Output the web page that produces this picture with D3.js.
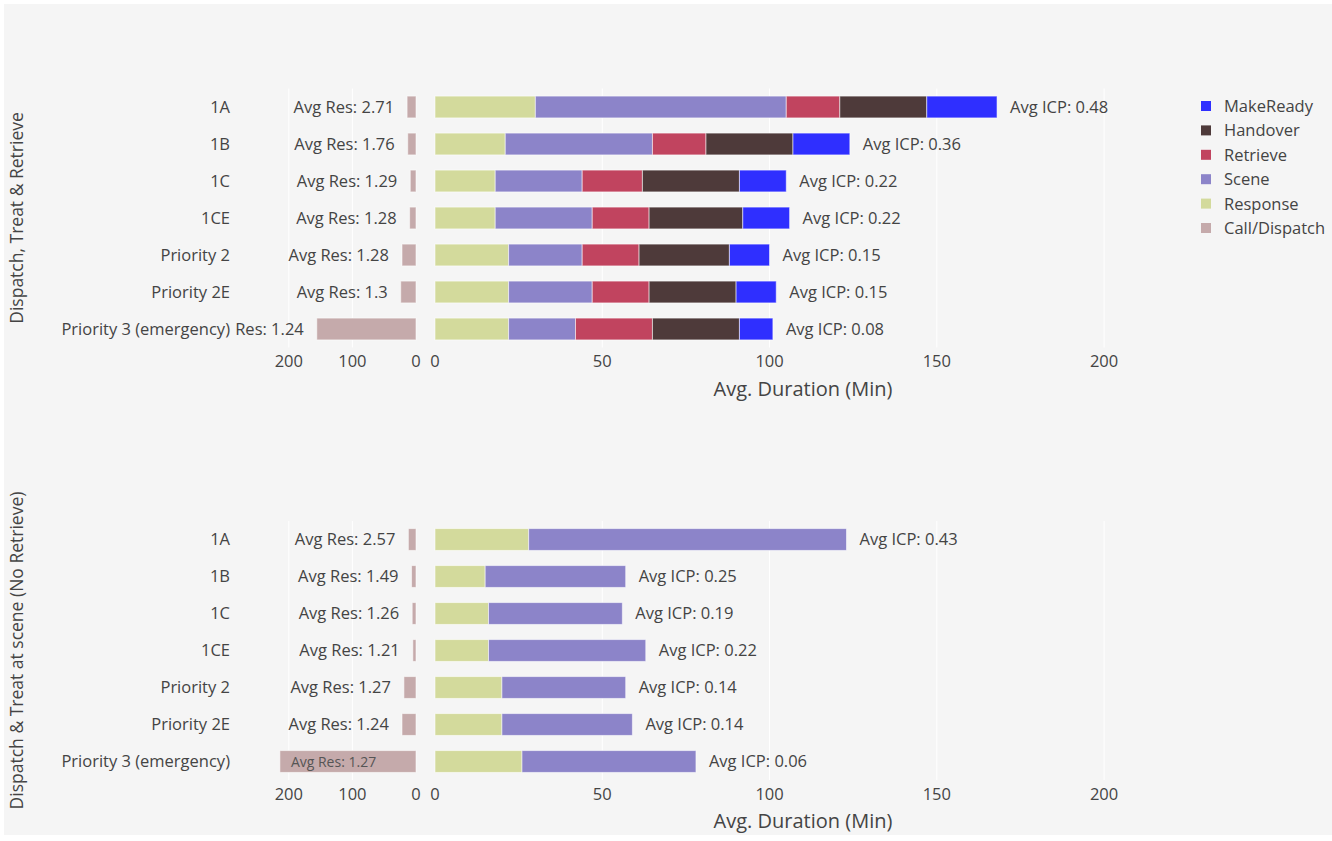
<!DOCTYPE html>
<html>
<head>
<meta charset="utf-8">
<script src="https://cdn.jsdelivr.net/npm/d3@7"></script>
<style>
  body { margin: 0; background: #fff; }
  svg { display: block; font-family: 'Open Sans', sans-serif; }
</style>
</head>
<body>
<div id="chart"></div>
<script>
// Chart data
const categories = ['1A', '1B', '1C', '1CE', 'Priority 2', 'Priority 2E', 'Priority 3 (emergency)'];
const segmentNames = ['Response', 'Scene', 'Retrieve', 'Handover', 'MakeReady'];
const legendNames = ['MakeReady', 'Handover', 'Retrieve', 'Scene', 'Response', 'Call/Dispatch'];

// Dispatch, Treat & Retrieve
const callTop = [14, 13, 9, 10, 22, 24, 156];
const responseTop = [30, 21, 18, 18, 22, 22, 22];
const sceneTop = [75, 44, 26, 29, 22, 25, 20];
const retrieveTop = [16, 16, 18, 17, 17, 17, 23];
const handoverTop = [26, 26, 29, 28, 27, 26, 26];
const makeReadyTop = [21, 17, 14, 14, 12, 12, 10];
const resTop = ['2.71', '1.76', '1.29', '1.28', '1.28', '1.3', '1.24'];
const icpTop = ['0.48', '0.36', '0.22', '0.22', '0.15', '0.15', '0.08'];

// Dispatch & Treat at scene (No Retrieve)
const callBottom = [12, 7, 6, 5, 19, 22, 214];
const responseBottom = [28, 15, 16, 16, 20, 20, 26];
const sceneBottom = [95, 42, 40, 47, 37, 39, 52];
const resBottom = ['2.57', '1.49', '1.26', '1.21', '1.27', '1.24', '1.27'];
const icpBottom = ['0.43', '0.25', '0.19', '0.22', '0.14', '0.14', '0.06'];

const mainTicks = [0, 50, 100, 150, 200];
const leftTicks = [0, 100, 200];

const colors = {
  'MakeReady': '#2f2fff',
  'Handover': '#4e3a3a',
  'Retrieve': '#c1445f',
  'Scene': '#8c84c9',
  'Response': '#d3da9c',
  'Call/Dispatch': '#c5aaab',
};

const width = 1332;
const height = 841;
const textColor = '#444';
const fontSize = 16.5;

const svg = d3.select('#chart').append('svg')
  .attr('width', width)
  .attr('height', height);

svg.append('rect')
  .attr('x', 4)
  .attr('y', 4)
  .attr('width', width - 4)
  .attr('height', 831)
  .attr('fill', '#f5f5f5');

// Shared horizontal scales
const x = d3.scaleLinear().domain([0, 220]).range([435, 1171]);
const xLeft = d3.scaleLinear().domain([0, 283]).range([416, 236]);
const leftEdge = 235;

function drawPanel(config) {
  const y = d3.scaleBand()
    .domain(categories)
    .range([config.top, config.top + 259])
    .paddingInner(0.41)
    .paddingOuter(0.205);

  const g = svg.append('g');

  // Grid lines
  g.append('g')
    .selectAll('line')
    .data(mainTicks.slice(1))
    .enter()
    .append('line')
    .attr('x1', d => x(d))
    .attr('x2', d => x(d))
    .attr('y1', config.top)
    .attr('y2', config.top + 259)
    .attr('stroke', '#fff')
    .attr('stroke-width', 1);

  g.append('g')
    .selectAll('line')
    .data(leftTicks.slice(1))
    .enter()
    .append('line')
    .attr('x1', d => xLeft(d))
    .attr('x2', d => xLeft(d))
    .attr('y1', config.top)
    .attr('y2', config.top + 259)
    .attr('stroke', '#fff')
    .attr('stroke-width', 1);

  // Stacked main bars
  const rows = categories.map((c, i) => {
    const row = { category: c };
    config.segments.forEach(s => { row[s.name] = s.values[i]; });
    return row;
  });
  const stack = d3.stack().keys(config.segments.map(s => s.name));
  const series = stack(rows);

  g.append('g')
    .selectAll('g')
    .data(series)
    .enter()
    .append('g')
    .attr('fill', d => colors[d.key])
    .selectAll('rect')
    .data(d => d)
    .enter()
    .append('rect')
    .attr('x', d => x(d[0]))
    .attr('y', d => y(d.data.category))
    .attr('width', d => x(d[1]) - x(d[0]))
    .attr('height', y.bandwidth())
    .attr('stroke', 'rgba(255,255,255,0.55)')
    .attr('stroke-width', 1);

  // Avg ICP labels outside the stacked bars
  const totals = series[series.length - 1];
  g.append('g')
    .selectAll('text')
    .data(totals)
    .enter()
    .append('text')
    .attr('x', d => x(d[1]) + 13)
    .attr('y', d => y(d.data.category) + y.bandwidth() / 2)
    .attr('dy', '0.36em')
    .attr('fill', textColor)
    .style('font-size', `${fontSize}px`)
    .text((d, i) => `Avg ICP: ${config.icp[i]}`);

  // Call/Dispatch bars on the reversed left axis
  const left = g.append('g');
  left.selectAll('rect')
    .data(config.call)
    .enter()
    .append('rect')
    .attr('x', d => xLeft(d))
    .attr('y', (d, i) => y(categories[i]))
    .attr('width', d => xLeft(0) - xLeft(d))
    .attr('height', y.bandwidth())
    .attr('fill', colors['Call/Dispatch'])
    .attr('stroke', 'rgba(255,255,255,0.55)')
    .attr('stroke-width', 1);

  const leftText = left.append('g');
  config.call.forEach((v, i) => {
    const label = `Avg Res: ${config.res[i]}`;
    const barW = xLeft(0) - xLeft(v);
    const t = leftText.append('text')
      .attr('y', y(categories[i]) + y.bandwidth() / 2)
      .attr('dy', '0.36em')
      .style('font-size', '14px')
      .text(label);
    if (t.node().getComputedTextLength() + 20 < barW) {
      // fits inside the bar
      t.attr('x', xLeft(v) + 11)
        .attr('fill', '#555');
    } else {
      const end = xLeft(v) - 13;
      t.style('font-size', `${fontSize}px`)
        .attr('x', end)
        .attr('text-anchor', 'end')
        .attr('fill', textColor);
      // words running past the subplot's left edge are cut off
      let words = label.split(' ');
      while (words.length > 1 && end - t.node().getComputedTextLength() < leftEdge) {
        words = words.slice(1);
        t.text(words.join(' '));
      }
    }
  });

  // Category labels
  g.append('g')
    .selectAll('text')
    .data(categories)
    .enter()
    .append('text')
    .attr('x', 230)
    .attr('y', d => y(d) + y.bandwidth() / 2)
    .attr('dy', '0.36em')
    .attr('text-anchor', 'end')
    .attr('fill', textColor)
    .style('font-size', `${fontSize}px`)
    .text(d => d);

  // Tick labels
  const tickY = config.top + 273;
  g.append('g')
    .selectAll('text')
    .data(mainTicks)
    .enter()
    .append('text')
    .attr('x', d => x(d))
    .attr('y', tickY)
    .attr('dy', '0.36em')
    .attr('text-anchor', 'middle')
    .attr('fill', textColor)
    .style('font-size', `${fontSize}px`)
    .text(d => d);

  g.append('g')
    .selectAll('text')
    .data(leftTicks)
    .enter()
    .append('text')
    .attr('x', d => xLeft(d))
    .attr('y', tickY)
    .attr('dy', '0.36em')
    .attr('text-anchor', 'middle')
    .attr('fill', textColor)
    .style('font-size', `${fontSize}px`)
    .text(d => d);

  // Axis titles
  g.append('text')
    .attr('x', (x.range()[0] + x.range()[1]) / 2)
    .attr('y', config.top + 300)
    .attr('dy', '0.36em')
    .attr('text-anchor', 'middle')
    .attr('fill', textColor)
    .style('font-size', '20px')
    .text('Avg. Duration (Min)');

  const cy = config.top + 129.5;
  g.append('text')
    .attr('transform', `translate(17, ${cy}) rotate(-90)`)
    .attr('dy', '0.36em')
    .attr('text-anchor', 'middle')
    .attr('fill', textColor)
    .style('font-size', '17.5px')
    .text(config.title);
}

drawPanel({
  top: 88.5,
  title: 'Dispatch, Treat & Retrieve',
  call: callTop,
  res: resTop,
  icp: icpTop,
  segments: [
    { name: 'Response', values: responseTop },
    { name: 'Scene', values: sceneTop },
    { name: 'Retrieve', values: retrieveTop },
    { name: 'Handover', values: handoverTop },
    { name: 'MakeReady', values: makeReadyTop },
  ],
});

drawPanel({
  top: 521,
  title: 'Dispatch & Treat at scene (No Retrieve)',
  call: callBottom,
  res: resBottom,
  icp: icpBottom,
  segments: [
    { name: 'Response', values: responseBottom },
    { name: 'Scene', values: sceneBottom },
  ],
});

// Legend
const legend = svg.append('g')
  .attr('transform', 'translate(1201, 106)');

const item = legend.selectAll('g')
  .data(legendNames)
  .enter()
  .append('g')
  .attr('transform', (d, i) => `translate(0, ${i * 24.4})`);

item.append('rect')
  .attr('x', 0)
  .attr('y', -5)
  .attr('width', 10)
  .attr('height', 10)
  .attr('fill', d => colors[d]);

item.append('text')
  .attr('x', 23)
  .attr('dy', '0.36em')
  .attr('fill', textColor)
  .style('font-size', `${fontSize}px`)
  .text(d => d);
</script>
</body>
</html>
